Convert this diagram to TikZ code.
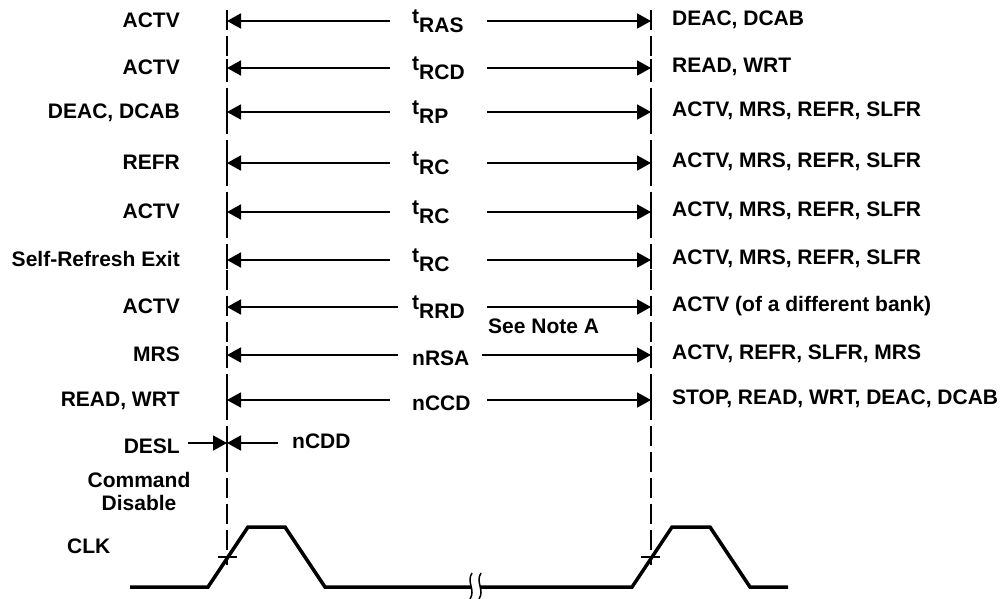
\documentclass[tikz,border=0pt]{standalone}
\usepackage{fontspec}
\setmainfont{Liberation Sans}
\usetikzlibrary{arrows.meta}
\newcommand\tsub[1]{t\raisebox{-9pt}{#1}}
\newcommand\nlow[1]{\raisebox{-8pt}{#1}}
\begin{document}
\begin{tikzpicture}[x=1pt,y=-1pt,
  lbl/.style={inner sep=0pt, font=\fontsize{21}{23}\selectfont\bfseries},
  arr/.style={line width=1.8pt, -{Triangle[length=14pt,width=15pt]}},
  guide/.style={line width=1.5pt, dash pattern=on 20pt off 6pt},
  solidpart/.style={line width=1.5pt},
  clk/.style={line width=3.5pt, line join=miter},
  thin/.style={line width=1.5pt}]
\useasboundingbox (0,0) rectangle (1008,598);
% guide lines
\coordinate (Ltop) at (227,10);
\coordinate (Lbot) at (227,565);
\coordinate (Rtop) at (651,10);
\coordinate (Rbot) at (651,565);
\draw[guide] (Ltop) -- (Lbot);
\draw[guide] (Rtop) -- (Rbot);
% rows
\foreach \y/\l/\m/\r/\lx/\rx [count=\i] in {
  21/ACTV/\tsub{RAS}/{DEAC, DCAB}/390/487,
  68/ACTV/\tsub{RCD}/{READ, WRT}/390/487,
  112/{DEAC, DCAB}/\tsub{RP}/{ACTV, MRS, REFR, SLFR}/390/487,
  163/REFR/\tsub{RC}/{ACTV, MRS, REFR, SLFR}/390/487,
  212/ACTV/\tsub{RC}/{ACTV, MRS, REFR, SLFR}/390/487,
  260/Self-Refresh Exit/\tsub{RC}/{ACTV, MRS, REFR, SLFR}/390/487,
  307/ACTV/\tsub{RRD}/{ACTV (of a different bank)}/398/487,
  355/MRS/\nlow{nRSA}/{ACTV, REFR, SLFR, MRS}/398/482,
  400/{READ, WRT}/\nlow{nCCD}/{STOP, READ, WRT, DEAC, DCAB}/390/487}{
  \node[lbl, anchor=base east] (l\i) at (180,{\y+6}) {\l};
  \node[lbl, anchor=base west] (m\i) at (412,{\y+2}) {\m};
  \node[lbl, anchor=base west] (r\i) at (672,{\y+4}) {\r};
  \coordinate (L\i) at (227,\y);
  \coordinate (R\i) at (651,\y);
  \coordinate (a\i) at (\lx,\y);
  \coordinate (b\i) at (\rx,\y);
  \draw[solidpart] (227,{\y-9}) -- (227,{\y+9});
  \draw[solidpart] (651,{\y-9}) -- (651,{\y+9});
  \draw[arr] (a\i) -- (L\i);
  \draw[arr] (b\i) -- (R\i);
}
\node[lbl, anchor=base west] (note) at (488,333) {See Note A};
% DESL / nCDD
\coordinate (Ld) at (227,443);
\draw[solidpart] (227,434) -- (227,452);
\node[lbl, anchor=base east] (desl) at (180,453) {DESL};
\node[lbl, anchor=base west] (ncdd) at (292,448) {nCDD};
\draw[arr, shorten <=8pt] (desl.east |- Ld) -- (Ld);
\draw[arr, shorten <=14pt] (ncdd.west |- Ld) -- (Ld);
\node[lbl, align=center, anchor=north] (cmd) at (139,472) {Command\\Disable};
\node[lbl, anchor=base west] (clk) at (67,553) {CLK};
% clock waveform
\draw[clk] (130,587) -- (208,587) -- (248,527) -- (285,527) -- (325,587) -- (471,587);
\draw[clk] (480,587) -- (632,587) -- (672,527) -- (710,527) -- (750,587) -- (788,587);
\draw[thin] (472,573) .. controls (466,582) and (476,590) .. (470,599);
\draw[thin] (481,573) .. controls (475,582) and (485,590) .. (479,599);
\draw[thin] (218,557) -- (237,557);
\draw[thin] (641,557) -- (660,557);
\end{tikzpicture}
\end{document}
